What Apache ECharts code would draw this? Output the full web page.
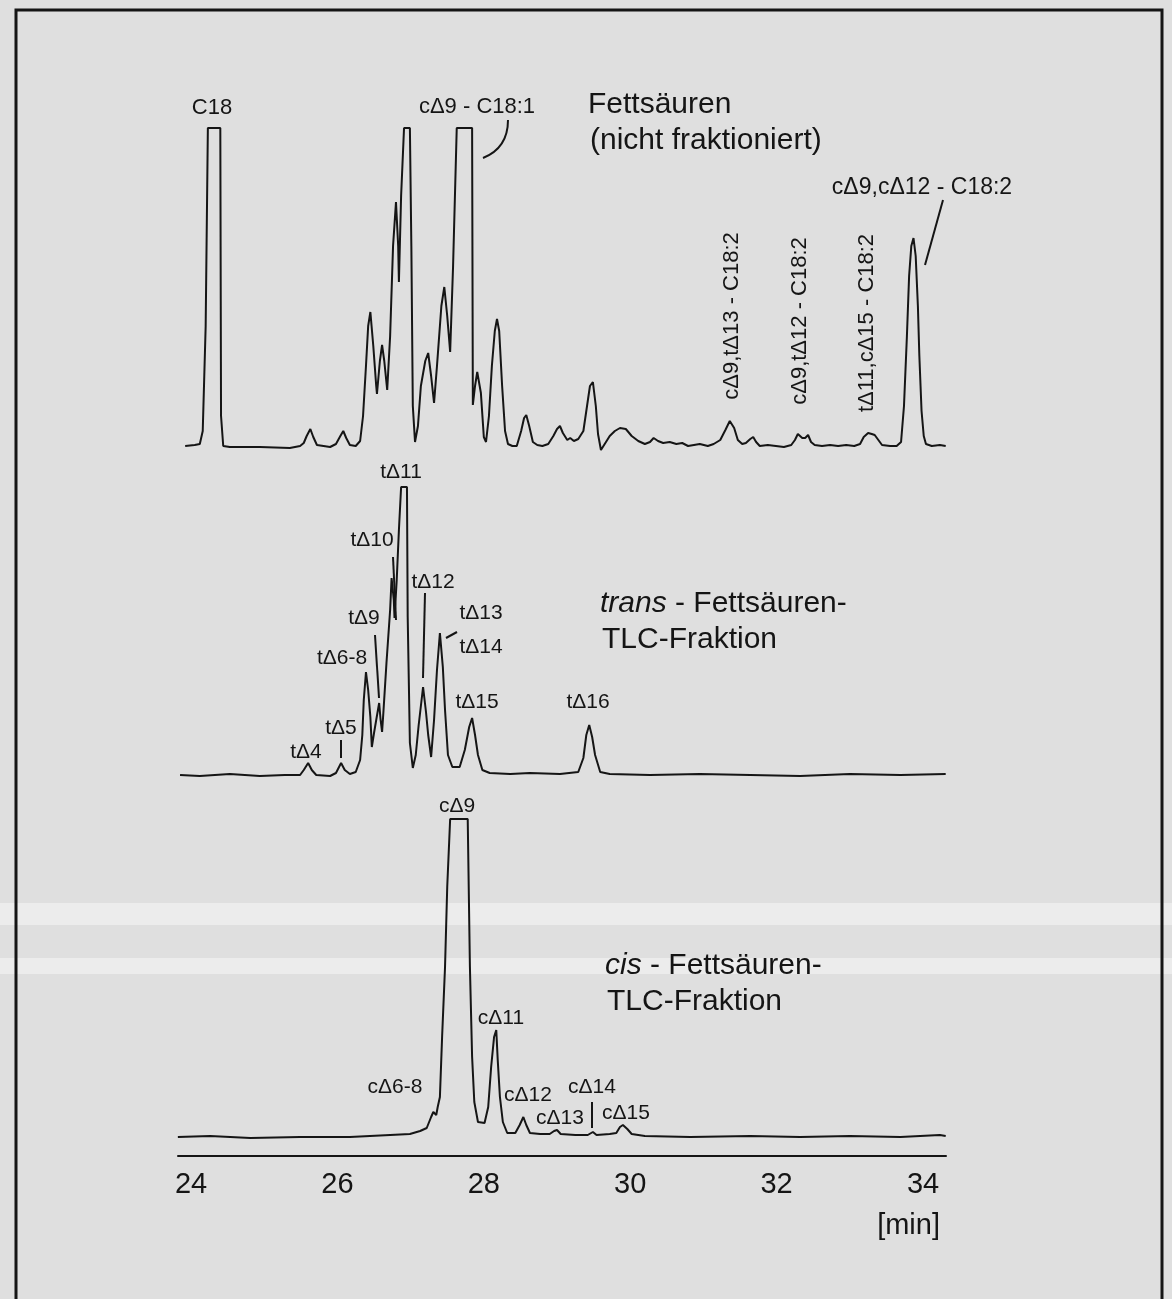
<!DOCTYPE html>
<html>
<head>
<meta charset="utf-8">
<script src="https://cdn.jsdelivr.net/npm/echarts@6/dist/echarts.min.js"></script>
<style>
  html, body { margin: 0; padding: 0; background: #dfdfdf; }
  #chart { width: 1172px; height: 1299px; }
</style>
</head>
<body>
<div id="chart"></div>
<script>
// Retention time axis [min]
var tickLabels = [24, 26, 28, 30, 32, 34];

// Fettsäuren (nicht fraktioniert)
var topTime = [23.92, 24.05, 24.12, 24.16, 24.20, 24.23, 24.40, 24.41, 24.44, 24.53, 24.94, 25.35, 25.49, 25.54, 25.58, 25.63, 25.67, 25.72,
  25.90, 25.98, 26.04, 26.08, 26.12, 26.17, 26.25, 26.31, 26.35, 26.39, 26.42, 26.45, 26.49, 26.53, 26.54, 26.58, 26.61, 26.64, 26.68,
  26.72, 26.76, 26.80, 26.83, 26.84, 26.87, 26.91, 26.99, 27.01, 27.03, 27.06, 27.10, 27.14, 27.20, 27.24, 27.28, 27.32, 27.36, 27.42,
  27.46, 27.50, 27.54, 27.58, 27.63, 27.84, 27.85, 27.88, 27.91, 27.96, 28.00, 28.03, 28.07, 28.11, 28.15, 28.18, 28.21, 28.25, 28.29,
  28.33, 28.39, 28.45, 28.51, 28.55, 28.58, 28.62, 28.67, 28.73, 28.80, 28.88, 28.95, 29.00, 29.04, 29.08, 29.14, 29.18, 29.23, 29.29,
  29.36, 29.41, 29.45, 29.49, 29.53, 29.56, 29.60, 29.66, 29.72, 29.79, 29.86, 29.94, 30.02, 30.11, 30.20, 30.27, 30.32, 30.38, 30.45,
  30.54, 30.63, 30.71, 30.79, 30.87, 30.95, 31.06, 31.14, 31.23, 31.30, 31.36, 31.42, 31.47, 31.53, 31.58, 31.64, 31.68, 31.72, 31.77,
  31.88, 31.99, 32.10, 32.20, 32.25, 32.29, 32.35, 32.39, 32.43, 32.47, 32.52, 32.62, 32.73, 32.84, 32.95, 33.06, 33.14, 33.19, 33.25,
  33.30, 33.34, 33.39, 33.44, 33.55, 33.64, 33.70, 33.74, 33.78, 33.81, 33.84, 33.87, 33.90, 33.93, 33.95, 33.98, 34.01, 34.04, 34.12,
  34.23, 34.31];
var topSignal = [0, 1, 2, 15, 120, 318, 318, 30, 0, -1, -1, -2, 0, 3, 10, 17, 9, 1,
  -1, 2, 10, 15, 8, 1, 0, 5, 30, 80, 120, 134, 100, 60, 52, 85, 101, 85, 56,
  110, 200, 244, 200, 164, 250, 318, 318, 200, 40, 4, 20, 60, 85, 93, 70, 43, 80, 140,
  159, 130, 94, 180, 318, 318, 41, 60, 74, 53, 9, 4, 30, 80, 115, 127, 115, 60, 15,
  2, 0, 0, 15, 28, 31, 20, 4, 1, 0, 2, 10, 17, 20, 13, 6, 8, 5, 7,
  15, 40, 60, 64, 40, 12, -4, 3, 10, 15, 18, 17, 10, 5, 2, 4, 8, 5, 3,
  4, 2, 3, 0, 1, 2, 0, 2, 6, 16, 25, 18, 6, 2, 3, 7, 9, 4, 0,
  1, 0, -1, 1, 6, 12, 8, 8, 11, 4, 1, 0, 1, 0, 1, 0, 2, 9, 13,
  12, 11, 6, 1, 0, 0, 4, 40, 110, 170, 200, 208, 190, 140, 90, 35, 10, 2, 0,
  1, 0];

// trans - Fettsäuren, TLC-Fraktion
var transTime = [23.85, 24.12, 24.53, 24.94, 25.28, 25.49, 25.54, 25.60, 25.65, 25.71, 25.90, 25.98, 26.05, 26.10, 26.17, 26.25, 26.31,
  26.34, 26.36, 26.39, 26.42, 26.45, 26.47, 26.50, 26.53, 26.57, 26.59, 26.61, 26.63, 26.67, 26.72, 26.74, 26.77, 26.78, 26.81, 26.84,
  26.87, 26.95, 26.96, 26.99, 27.03, 27.07, 27.11, 27.17, 27.21, 27.24, 27.28, 27.32, 27.36, 27.40, 27.44, 27.47, 27.51, 27.57, 27.67,
  27.74, 27.80, 27.84, 27.88, 27.92, 27.98, 28.08, 28.36, 28.63, 29.04, 29.29, 29.36, 29.40, 29.44, 29.48, 29.52, 29.59, 29.72, 30.27,
  30.95, 31.64, 32.32, 33.00, 33.69, 34.31];
var transSignal = [0, -1, 1, -1, 0, 0, 5, 12, 5, 0, -1, 2, 12, 5, 1, 3, 15,
  40, 75, 103, 85, 58, 28, 42, 55, 72, 55, 43, 65, 112, 165, 197, 175, 157, 195, 245,
  288, 288, 158, 32, 7, 20, 50, 88, 63, 40, 18, 55, 105, 142, 108, 65, 20, 8, 8,
  25, 48, 57, 40, 20, 5, 2, 1, 2, 1, 3, 17, 40, 50, 38, 20, 3, 1, 0,
  1, 0, -1, 1, 0, 1];

// cis - Fettsäuren, TLC-Fraktion
var cisTime = [23.82, 24.26, 24.81, 25.49, 26.17, 26.72, 26.99, 27.13, 27.22, 27.28, 27.31, 27.35, 27.37, 27.40, 27.43, 27.47, 27.50,
  27.54, 27.78, 27.81, 27.84, 27.87, 27.92, 28.01, 28.06, 28.10, 28.14, 28.17, 28.19, 28.22, 28.26, 28.32, 28.43, 28.49, 28.54, 28.58,
  28.63, 28.77, 28.90, 28.96, 29.00, 29.05, 29.25, 29.42, 29.49, 29.54, 29.72, 29.81, 29.86, 29.90, 29.96, 30.02, 30.20, 30.82, 31.64,
  32.32, 33.00, 33.69, 34.23, 34.31];
var cisSignal = [0, 1, -1, 0, 0, 2, 3, 6, 9, 20, 25, 22, 30, 40, 100, 170, 250,
  318, 318, 170, 80, 35, 15, 14, 30, 70, 100, 107, 77, 40, 15, 4, 4, 12, 20, 12,
  4, 3, 3, 6, 7, 3, 2, 2, 5, 2, 3, 4, 10, 12, 8, 3, 1, 0, 1,
  0, 1, 0, 2, 1];

function pairs(t, s) {
  return t.map(function (x, i) { return [x, s[i]]; });
}

var myChart = echarts.init(document.getElementById('chart'));
var ink = '#151515';
var font = 'Liberation Sans, Arial, sans-serif';

function label(text, x, y, size, extra) {
  var el = {
    type: 'text', x: x, y: y, silent: true, z: 10,
    style: { text: text, fill: ink, font: size + 'px ' + font, align: 'center', verticalAlign: 'middle' }
  };
  if (extra) { for (var k in extra) el[k] = extra[k]; }
  return el;
}
function leader(x1, y1, x2, y2) {
  return { type: 'line', silent: true, z: 10, shape: { x1: x1, y1: y1, x2: x2, y2: y2 }, style: { stroke: ink, lineWidth: 2 } };
}
function title(line1, line2, x, y) {
  var rich = { i: { fontStyle: 'italic', fontSize: 30, fontFamily: font, fill: ink } };
  return [
    { type: 'text', x: x, y: y, silent: true, z: 10,
      style: { text: line1, fill: ink, font: '30px ' + font, verticalAlign: 'middle', rich: rich } },
    { type: 'text', x: x + 2, y: y + 36, silent: true, z: 10,
      style: { text: line2, fill: ink, font: '30px ' + font, verticalAlign: 'middle' } }
  ];
}

var xMin = 23.822, xMax = 34.314;
var gridLeft = 178, gridRight = 226;

var option = {
  backgroundColor: '#dfdfdf',
  animation: false,
  grid: [
    { left: gridLeft, right: gridRight, top: 116, height: 340 },
    { left: gridLeft, right: gridRight, top: 475, height: 310 },
    { left: gridLeft, right: gridRight, top: 807, height: 349 }
  ],
  xAxis: [
    { type: 'value', gridIndex: 0, min: xMin, max: xMax, show: false },
    { type: 'value', gridIndex: 1, min: xMin, max: xMax, show: false },
    {
      type: 'value', gridIndex: 2, min: xMin, max: xMax,
      axisLine: { show: true, onZero: false, lineStyle: { color: ink, width: 2 } },
      axisTick: { show: false },
      splitLine: { show: false },
      axisLabel: {
        customValues: tickLabels,
        color: ink, fontSize: 29, fontFamily: font, margin: 14
      }
    }
  ],
  yAxis: [
    { type: 'value', gridIndex: 0, min: -10, max: 330, show: false },
    { type: 'value', gridIndex: 1, min: -10, max: 300, show: false },
    { type: 'value', gridIndex: 2, min: -19, max: 330, show: false }
  ],
  series: [
    { name: 'Fettsäuren', type: 'line', xAxisIndex: 0, yAxisIndex: 0, showSymbol: false,
      lineStyle: { color: ink, width: 2 }, data: pairs(topTime, topSignal) },
    { name: 'trans', type: 'line', xAxisIndex: 1, yAxisIndex: 1, showSymbol: false,
      lineStyle: { color: ink, width: 2 }, data: pairs(transTime, transSignal) },
    { name: 'cis', type: 'line', xAxisIndex: 2, yAxisIndex: 2, showSymbol: false,
      lineStyle: { color: ink, width: 2 }, data: pairs(cisTime, cisSignal) }
  ],
  graphic: [
    // helle Scan-Streifen
    { type: 'rect', silent: true, z: -1, shape: { x: 0, y: 903, width: 1172, height: 22 }, style: { fill: '#ececec' } },
    { type: 'rect', silent: true, z: -1, shape: { x: 0, y: 958, width: 1172, height: 16 }, style: { fill: '#ececec' } },
    // Rahmen
    { type: 'rect', silent: true, z: 10, shape: { x: 16, y: 10, width: 1146, height: 1310 },
      style: { fill: 'none', stroke: ink, lineWidth: 3 } },

    // oben
    label('C18', 212, 108, 22),
    label('c\u03949 - C18:1', 477, 107, 22),
    { type: 'bezierCurve', silent: true, z: 10,
      shape: { x1: 508, y1: 120, x2: 483, y2: 158, cpx1: 508, cpy1: 148 },
      style: { stroke: ink, lineWidth: 2, fill: 'none' } },
    label('c\u03949,c\u039412 - C18:2', 922, 188, 23),
    leader(943, 200, 925, 265),
    label('c\u03949,t\u039413 - C18:2', 732, 316, 22, { rotation: Math.PI / 2 }),
    label('c\u03949,t\u039412 - C18:2', 800, 321, 22, { rotation: Math.PI / 2 }),
    label('t\u039411,c\u039415 - C18:2', 867, 323, 22, { rotation: Math.PI / 2 }),

    // trans
    label('t\u039411', 401, 472, 21),
    label('t\u039410', 372, 540, 21),
    leader(393, 557, 396, 620),
    label('t\u039412', 433, 582, 21),
    leader(425, 593, 423, 678),
    label('t\u03949', 364, 618, 21),
    leader(375, 635, 379, 698),
    label('t\u039413', 481, 613, 21),
    label('t\u039414', 481, 647, 21),
    leader(446, 638, 457, 632),
    label('t\u03946-8', 342, 658, 21),
    label('t\u03945', 341, 728, 21),
    leader(341, 740, 341, 758),
    label('t\u03944', 306, 752, 21),
    label('t\u039415', 477, 702, 21),
    label('t\u039416', 588, 702, 21),

    // cis
    label('c\u03949', 457, 806, 21),
    label('c\u039411', 501, 1018, 21),
    label('c\u03946-8', 395, 1087, 21),
    label('c\u039412', 528, 1095, 21),
    label('c\u039414', 592, 1087, 21),
    label('c\u039413', 560, 1118, 21),
    label('c\u039415', 626, 1113, 21),
    leader(592, 1102, 592, 1128),

    // Achse
    label('[min]', 940, 1226, 29, { style: { text: '[min]', fill: ink, font: '29px ' + font, align: 'right', verticalAlign: 'middle' } })
  ].concat(
    title('Fettsäuren', '(nicht fraktioniert)', 588, 105),
    title('{i|trans} - Fettsäuren-', 'TLC-Fraktion', 600, 604),
    title('{i|cis} - Fettsäuren-', 'TLC-Fraktion', 605, 966)
  )
};

myChart.setOption(option);
window.addEventListener('resize', function () { myChart.resize(); });
</script>
</body>
</html>
